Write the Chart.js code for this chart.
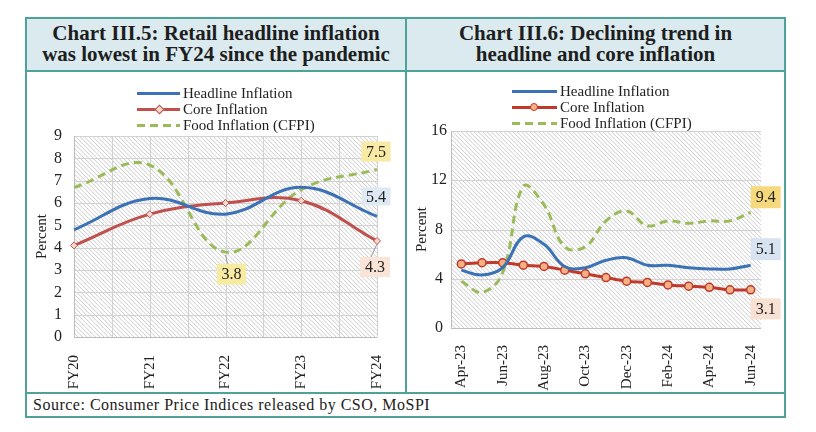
<!DOCTYPE html>
<html>
<head>
<meta charset="utf-8">
<script src="https://cdn.jsdelivr.net/npm/chart.js@4.4.1/dist/chart.umd.min.js"></script>
<style>
  body { margin: 0; background: #fff; }
  #page { position: relative; width: 816px; height: 432px; font-family: "Liberation Serif", "Times New Roman", serif; color: #222; }
  .abs { position: absolute; }
  .line { position: absolute; background: #4fa298; }
  .title { position: absolute; background: #daeaee; text-align: center; font-weight: bold; font-size: 21px; line-height: 21px; padding-top: 4px; box-sizing: border-box; color: #1e1e1e; }
  .leg { position: absolute; font-size: 15px; line-height: 16px; white-space: nowrap; color: #222; }
  .sw { position: absolute; height: 3px; }
  canvas { position: absolute; }
</style>
</head>
<body>
<div id="page">
  <div class="title" style="left:27px;top:19px;width:378px;height:51px;">Chart III.5: Retail headline inflation<br>was lowest in FY24 since the pandemic</div>
  <div class="title" style="left:407px;top:19px;width:377px;height:51px;">Chart III.6: Declining trend in<br>headline and core inflation</div>

  <div class="line" style="left:25px;top:17px;width:761px;height:2px;"></div>
  <div class="line" style="left:25px;top:70px;width:761px;height:2px;"></div>
  <div class="line" style="left:25px;top:392px;width:761px;height:2px;"></div>
  <div class="line" style="left:25px;top:416px;width:761px;height:2px;"></div>
  <div class="line" style="left:25px;top:17px;width:2px;height:401px;"></div>
  <div class="line" style="left:784px;top:17px;width:2px;height:401px;"></div>
  <div class="line" style="left:405px;top:17px;width:2px;height:376px;"></div>

  <canvas id="chartL" width="378" height="320" style="left:27px;top:72px;"></canvas>
  <canvas id="chartR" width="377" height="320" style="left:407px;top:72px;"></canvas>

  <div id="legL"></div>
  <div id="legR"></div>

  <div class="abs" style="left:33px;top:395px;font-size:16px;line-height:20px;letter-spacing:0.5px;white-space:nowrap;">Source: Consumer Price Indices released by CSO, MoSPI</div>
</div>

<script>
// Chart III.5 - yearly
const years = ['FY20', 'FY21', 'FY22', 'FY23', 'FY24']
const headlineY = [4.8, 6.2, 5.5, 6.7, 5.4]
const coreY = [4.1, 5.5, 6.0, 6.1, 4.3]
const foodY = [6.7, 7.7, 3.8, 6.6, 7.5]
const ticksLeft = [0, 1, 2, 3, 4, 5, 6, 7, 8, 9]

// Chart III.6 - monthly
const months = ['Apr-23', 'May-23', 'Jun-23', 'Jul-23', 'Aug-23', 'Sep-23', 'Oct-23', 'Nov-23',
  'Dec-23', 'Jan-24', 'Feb-24', 'Mar-24', 'Apr-24', 'May-24', 'Jun-24']
const headlineM = [4.7, 4.3, 4.9, 7.4, 6.8, 5.0, 4.9, 5.5, 5.7, 5.1, 5.1, 4.9, 4.8, 4.8, 5.1]
const coreM = [5.2, 5.3, 5.3, 5.1, 5.0, 4.7, 4.4, 4.1, 3.8, 3.7, 3.5, 3.4, 3.3, 3.1, 3.1]
const foodM = [3.8, 2.9, 4.5, 11.5, 10.0, 6.6, 6.6, 8.7, 9.5, 8.3, 8.7, 8.5, 8.7, 8.7, 9.4]
const ticksRight = [0, 4, 8, 12, 16]

const legendNames = ['Headline Inflation', 'Core Inflation', 'Food Inflation (CFPI)']

const blue = '#3b72b6'
const redL = '#c0504d'
const redR = '#c0392b'
const green = '#9bbb59'

Chart.defaults.font.family = '"Liberation Serif", "Times New Roman", serif'
Chart.defaults.font.size = 16
Chart.defaults.color = '#222'

function addLegend(id, left, top, core) {
    let box = document.getElementById(id)
    let styles = [
        'background:' + blue,
        'background:' + core.color,
        'background:repeating-linear-gradient(to right,' + green + ' 0 8px, transparent 8px 13px)'
    ]
    for (let i = 0; i < 3; i++) {
        let y = top + i * 16
        let sw = document.createElement('div')
        sw.className = 'sw'
        sw.setAttribute('style', 'left:' + left + 'px;top:' + (y - 1.5) + 'px;width:' + core.w + 'px;' + styles[i])
        box.appendChild(sw)
        if (i === 1) {
            let m = document.createElement('div')
            m.className = 'abs'
            m.setAttribute('style', core.marker + 'left:' + (left + core.w / 2 - core.size / 2) + 'px;top:' + (y - core.size / 2) + 'px;')
            box.appendChild(m)
        }
        let t = document.createElement('div')
        t.className = 'leg'
        t.textContent = legendNames[i]
        t.style.left = (left + core.w + 3) + 'px'
        t.style.top = (y - 8) + 'px'
        box.appendChild(t)
    }
}

addLegend('legL', 137, 93, {
    color: redL, w: 43, size: 6,
    marker: 'width:5px;height:5px;background:#f8d9cc;border:1px solid ' + redL + ';transform:rotate(45deg);'
})
addLegend('legR', 512, 91, {
    color: redR, w: 45, size: 9,
    marker: 'width:6px;height:6px;border-radius:50%;background:#f4b183;border:1.5px solid ' + redR + ';'
})

// hatch, extra gridlines and callout labels
const decor = {
    id: 'decor',
    beforeDatasetsDraw(chart, args, opts) {
        let ctx = chart.ctx
        let a = chart.chartArea
        ctx.save()
        ctx.beginPath()
        ctx.rect(a.left, a.top, a.right - a.left, a.bottom - a.top)
        ctx.clip()
        ctx.strokeStyle = '#cbcbcb'
        ctx.lineWidth = 1
        let h = a.bottom - a.top
        for (let x = a.left - h; x < a.right; x += 4.3) {
            ctx.beginPath()
            ctx.moveTo(x, a.top)
            ctx.lineTo(x + h, a.bottom)
            ctx.stroke()
        }
        ctx.restore()
        // redraw grid over the hatch
        ctx.save()
        ctx.strokeStyle = '#d2d2d2'
        ctx.lineWidth = 1
        let ys = chart.scales.y
        ys.ticks.forEach(t => {
            let py = Math.round(ys.getPixelForValue(t.value)) + 0.5
            ctx.beginPath(); ctx.moveTo(a.left, py); ctx.lineTo(a.right, py); ctx.stroke()
        })
        if (opts.vgrid) {
            let xs = chart.scales.x
            let n = chart.data.labels.length
            for (let i = 0; i < n * 2 - 1; i++) {
                let px = Math.round(xs.getPixelForValue(Math.floor(i / 2)) + (i % 2) * (xs.getPixelForValue(1) - xs.getPixelForValue(0)) / 2) + 0.5
                ctx.beginPath(); ctx.moveTo(px, a.top); ctx.lineTo(px, a.bottom); ctx.stroke()
            }
        }
        ctx.strokeStyle = '#bdbdbd'
        ctx.beginPath(); ctx.moveTo(a.left + 0.5, a.top); ctx.lineTo(a.left + 0.5, a.bottom); ctx.stroke()
        ctx.beginPath(); ctx.moveTo(a.left, Math.round(a.bottom) + 0.5); ctx.lineTo(a.right, Math.round(a.bottom) + 0.5); ctx.stroke()
        ctx.restore()
    },
    afterDatasetsDraw(chart, args, opts) {
        let ctx = chart.ctx
        ctx.save()
        ctx.font = '16px "Liberation Serif", "Times New Roman", serif'
        ctx.textAlign = 'center'
        ctx.textBaseline = 'middle'
        opts.labels.forEach(l => {
            let pt = chart.getDatasetMeta(l.ds).data[l.i]
            let v = chart.data.datasets[l.ds].data[l.i]
            let cx = pt.x + l.dx
            let cy = pt.y + l.dy
            if (l.lead) {
                ctx.strokeStyle = '#9a9a9a'
                ctx.lineWidth = 1
                ctx.beginPath()
                ctx.moveTo(pt.x, pt.y + 3)
                ctx.lineTo(cx - 4, cy - l.h / 2)
                ctx.stroke()
            }
            ctx.fillStyle = l.bg
            ctx.fillRect(cx - l.w / 2, cy - l.h / 2, l.w, l.h)
            ctx.fillStyle = '#222'
            ctx.fillText(v.toFixed(1), cx, cy + 1)
        })
        ctx.restore()
    }
}

function fixWidth(w) {
    return function(scale) { scale.width = w }
}
function fixHeight(h) {
    return function(scale) { scale.height = h }
}

new Chart(document.getElementById('chartL'), {
    type: 'line',
    data: {
        labels: years,
        datasets: [{
            label: legendNames[0],
            data: headlineY,
            borderColor: blue,
            borderWidth: 3,
            pointRadius: 0,
            tension: 0.4,
            clip: false
        }, {
            label: legendNames[1],
            data: coreY,
            borderColor: redL,
            borderWidth: 3,
            pointStyle: 'rectRot',
            pointRadius: 3.5,
            pointBackgroundColor: '#f8d9cc',
            pointBorderColor: redL,
            pointBorderWidth: 1,
            tension: 0.4,
            clip: false
        }, {
            label: legendNames[2],
            data: foodY,
            borderColor: green,
            borderWidth: 3,
            borderDash: [8, 5],
            pointRadius: 0,
            tension: 0.4,
            clip: false
        }]
    },
    options: {
        responsive: false,
        animation: false,
        layout: { padding: { left: 2, top: 64, right: 25, bottom: 0 } },
        plugins: {
            legend: { display: false },
            tooltip: { enabled: false },
            decor: {
                vgrid: true,
                labels: [
                    { ds: 2, i: 4, dx: -1, dy: -18, w: 29, h: 20, bg: '#f8eaa4' },
                    { ds: 0, i: 4, dx: -1, dy: -20, w: 29, h: 18, bg: '#dfe9f4' },
                    { ds: 2, i: 2, dx: 6, dy: 22, w: 29, h: 21, bg: '#f7eba2', lead: true },
                    { ds: 1, i: 4, dx: -2, dy: 26, w: 30, h: 20, bg: '#f9e4d7', lead: true }
                ]
            }
        },
        scales: {
            x: {
                offset: false,
                grid: { display: false },
                border: { display: false },
                ticks: { minRotation: 90, maxRotation: 90, padding: 10, autoSkip: false, font: { size: 15 } },
                afterFit: fixHeight(55)
            },
            y: {
                min: 0,
                max: 9,
                afterBuildTicks: function(scale) { scale.ticks = ticksLeft.map(v => ({ value: v })) },
                grid: { display: false, drawTicks: false },
                border: { display: false },
                ticks: { padding: 12, crossAlign: 'center' },
                title: { display: true, text: 'Percent', font: { size: 15 }, padding: 4 },
                afterFit: fixWidth(45)
            }
        }
    },
    plugins: [decor]
})

new Chart(document.getElementById('chartR'), {
    type: 'line',
    data: {
        labels: months,
        datasets: [{
            label: legendNames[0],
            data: headlineM,
            borderColor: blue,
            borderWidth: 3,
            pointRadius: 0,
            tension: 0.4,
            clip: false
        }, {
            label: legendNames[1],
            data: coreM,
            borderColor: redR,
            borderWidth: 3,
            pointRadius: 4,
            pointBackgroundColor: '#f4b183',
            pointBorderColor: redR,
            pointBorderWidth: 1.5,
            tension: 0.3,
            clip: false
        }, {
            label: legendNames[2],
            data: foodM,
            borderColor: green,
            borderWidth: 3,
            borderDash: [8, 5],
            pointRadius: 0,
            tension: 0.4,
            clip: false
        }]
    },
    options: {
        responsive: false,
        animation: false,
        layout: { padding: { left: 2, top: 59, right: 23, bottom: 0 } },
        plugins: {
            legend: { display: false },
            tooltip: { enabled: false },
            decor: {
                vgrid: false,
                labels: [
                    { ds: 2, i: 14, dx: 15, dy: -15, w: 30, h: 22, bg: '#f6d97c' },
                    { ds: 0, i: 14, dx: 15, dy: -16, w: 30, h: 22, bg: '#d7e3f1' },
                    { ds: 1, i: 14, dx: 15, dy: 19, w: 30, h: 21, bg: '#f8e1d2' }
                ]
            }
        },
        scales: {
            x: {
                offset: true,
                grid: { display: false },
                border: { display: false },
                ticks: {
                    minRotation: 90, maxRotation: 90, padding: 9, autoSkip: false, font: { size: 15 },
                    callback: function(val, index) { return index % 2 === 0 ? this.getLabelForValue(val) : '' }
                },
                afterFit: fixHeight(64)
            },
            y: {
                min: 0,
                max: 16,
                afterBuildTicks: function(scale) { scale.ticks = ticksRight.map(v => ({ value: v })) },
                grid: { display: false, drawTicks: false },
                border: { display: false },
                ticks: { padding: 4, crossAlign: 'center' },
                title: { display: true, text: 'Percent', font: { size: 15 }, padding: 4 },
                afterFit: fixWidth(42)
            }
        }
    },
    plugins: [decor]
})
</script>
</body>
</html>
